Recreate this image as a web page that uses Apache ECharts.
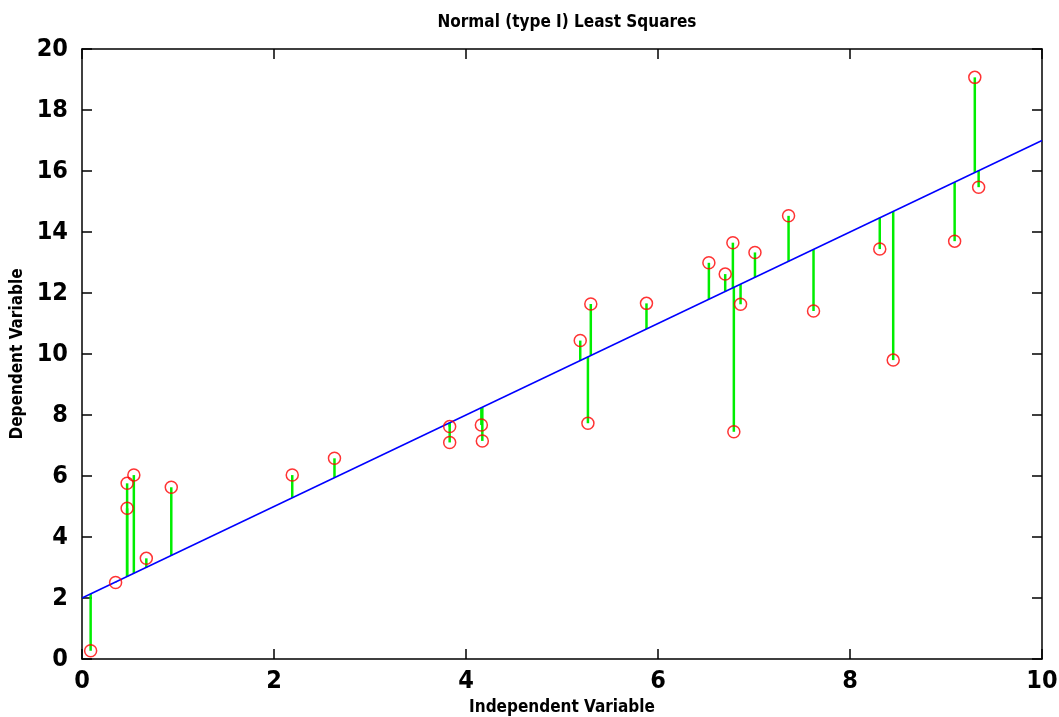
<!DOCTYPE html>
<html>
<head>
<meta charset="utf-8">
<script src="https://cdn.jsdelivr.net/npm/echarts@6/dist/echarts.min.js"></script>
<style>
  html, body { margin: 0; padding: 0; background: #fff; }
  #chart { width: 1059px; height: 717px; }
</style>
</head>
<body>
<div id="chart"></div>
<script>
// Observations (independent, dependent)
const xValues = [0.09, 0.35, 0.47, 0.47, 0.54, 0.67, 0.93, 2.19, 2.63, 3.83, 3.83, 4.16, 4.17,
                 5.19, 5.30, 5.27, 5.88, 6.53, 6.70, 6.78, 6.79, 6.86, 7.01, 7.36, 7.62, 8.31,
                 8.45, 9.09, 9.30, 9.34];
const yValues = [0.27, 2.51, 4.94, 5.76, 6.03, 3.30, 5.63, 6.03, 6.58, 7.62, 7.10, 7.67, 7.15,
                 10.44, 11.64, 7.73, 11.66, 12.99, 12.62, 13.65, 7.45, 11.63, 13.33, 14.53, 11.41, 13.44,
                 9.80, 13.70, 19.07, 15.47];

// Fitted line y = intercept + slope * x
const fitIntercept = 2;
const fitSlope = 1.5;
const xRange = [0, 10];

const xTicks = [0, 2, 4, 6, 8, 10];
const yTicks = [0, 2, 4, 6, 8, 10, 12, 14, 16, 18, 20];

const points = xValues.map((x, i) => [x, yValues[i]]);
const fitAt = x => fitIntercept + fitSlope * x;
const fitLine = xRange.map(x => [x, fitAt(x)]);

const FONT = "'Liberation Sans Narrow', 'DejaVu Sans Condensed', 'Liberation Sans', Arial, sans-serif";

const chart = echarts.init(document.getElementById('chart'), null, { renderer: 'canvas' });

const axisCommon = {
  axisLine: { show: true, onZero: false, lineStyle: { color: '#000', width: 1.5 } },
  axisTick: { show: true, inside: true, length: 10, lineStyle: { color: '#000', width: 1.5 } },
  splitLine: { show: false }
};

chart.setOption({
  animation: false,
  backgroundColor: '#ffffff',
  title: {
    text: 'Normal (type I) Least Squares',
    left: 562,
    textAlign: 'center',
    top: 9,
    textStyle: { fontFamily: FONT, fontSize: 17, fontWeight: 'bold', color: '#000' }
  },
  grid: { left: 82, right: 17, top: 49, bottom: 58, containLabel: false, outerBoundsMode: 'none' },
  xAxis: [
    Object.assign({
      type: 'value', min: 0, max: 10, interval: 2, position: 'bottom',
      name: 'Independent Variable', nameLocation: 'middle', nameGap: 38,
      nameTextStyle: { fontFamily: FONT, fontSize: 17, fontWeight: 'bold', color: '#000' },
      axisLabel: {
        margin: 10, fontFamily: FONT, fontSize: 25, fontWeight: 'bold', color: '#000',
        formatter: v => xTicks.includes(v) ? String(v) : ''
      }
    }, axisCommon),
    Object.assign({
      type: 'value', min: 0, max: 10, interval: 2, position: 'top',
      axisLabel: { show: false }
    }, axisCommon)
  ],
  yAxis: [
    Object.assign({
      type: 'value', min: 0, max: 20, interval: 2, position: 'left',
      name: 'Dependent Variable', nameLocation: 'middle', nameGap: 52, nameRotate: 90,
      nameTextStyle: { fontFamily: FONT, fontSize: 17, fontWeight: 'bold', color: '#000' },
      axisLabel: {
        margin: 14, fontFamily: FONT, fontSize: 25, fontWeight: 'bold', color: '#000',
        formatter: v => yTicks.includes(v) ? String(v) : ''
      }
    }, axisCommon),
    Object.assign({
      type: 'value', min: 0, max: 20, interval: 2, position: 'right',
      axisLabel: { show: false }
    }, axisCommon)
  ],
  series: [
    {
      // vertical residuals from each observation to the fitted line
      type: 'custom',
      xAxisIndex: 0, yAxisIndex: 0,
      data: points,
      z: 2,
      renderItem: (params, api) => {
        const x = api.value(0);
        const y = api.value(1);
        const p1 = api.coord([x, y]);
        const p2 = api.coord([x, fitAt(x)]);
        return {
          type: 'line',
          shape: { x1: p1[0], y1: p1[1], x2: p2[0], y2: p2[1] },
          style: { stroke: '#00ee00', lineWidth: 2.5 }
        };
      }
    },
    {
      type: 'line',
      xAxisIndex: 0, yAxisIndex: 0,
      data: fitLine,
      showSymbol: false,
      symbol: 'none',
      z: 3,
      lineStyle: { color: '#0000ff', width: 1.5 }
    },
    {
      type: 'scatter',
      xAxisIndex: 0, yAxisIndex: 0,
      data: points,
      symbol: 'circle',
      symbolSize: 12,
      z: 4,
      itemStyle: { color: 'rgba(255,255,255,0)', borderColor: '#ff0000', borderWidth: 1.5 }
    }
  ]
});
</script>
</body>
</html>
